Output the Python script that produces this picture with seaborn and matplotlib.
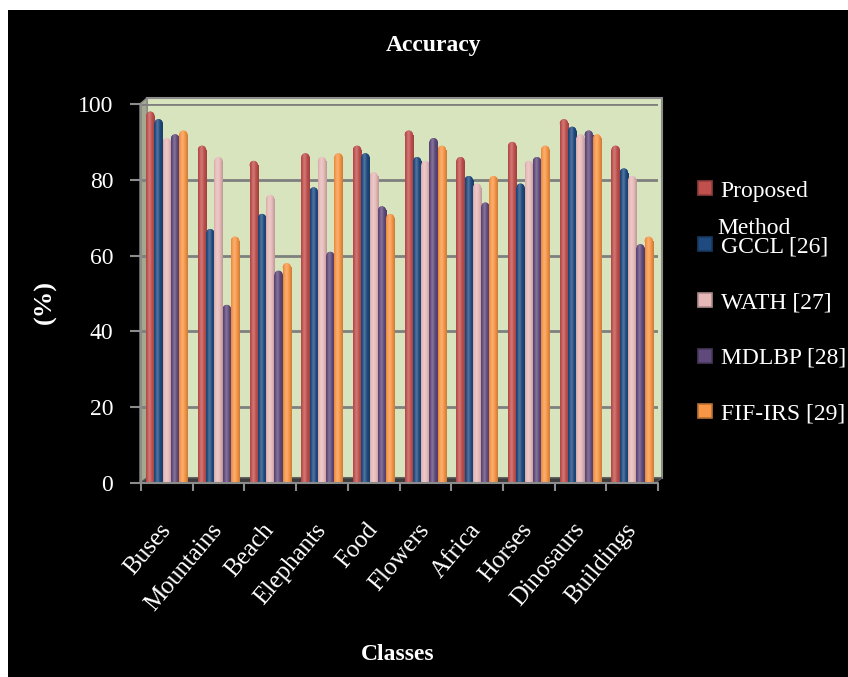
import matplotlib
matplotlib.use("Agg")
import matplotlib.pyplot as plt
from matplotlib.patches import Rectangle, Polygon, Ellipse
from matplotlib.lines import Line2D
import numpy as np
import pandas as pd
import seaborn as sns

# Accuracy (%) per image class for each retrieval method
classes = ["Buses", "Mountains", "Beach", "Elephants", "Food",
           "Flowers", "Africa", "Horses", "Dinosaurs", "Buildings"]
methods = ["Proposed Method", "GCCL [26]", "WATH [27]", "MDLBP [28]", "FIF-IRS [29]"]
proposed = [98, 89, 85, 87, 89, 93, 86, 90, 96, 89]
gccl = [96, 67, 71, 78, 87, 86, 81, 79, 94, 83]
wath = [91, 86, 76, 86, 82, 85, 79, 85, 92, 81]
mdlbp = [92, 47, 56, 61, 73, 91, 74, 86, 93, 63]
fif_irs = [93, 65, 58, 87, 71, 89, 81, 89, 92, 65]
y_ticks = [0, 20, 40, 60, 80, 100]

colors = ["#c0504d", "#1f4a7f", "#e6b9b8", "#604a7b", "#f79646"]

df = pd.DataFrame({
    "Class": classes * len(methods),
    "Method": [m for m in methods for _ in classes],
    "Accuracy": proposed + gccl + wath + mdlbp + fif_irs,
})

sns.set_style("white")
plt.rcParams["font.family"] = ["Liberation Serif", "DejaVu Serif"]

W, H = 848, 677
fig = plt.figure(figsize=(W / 100, H / 100), dpi=100, facecolor="white")


def fx(px):
    return px / W


def fy(py):
    return 1 - py / H


# black chart area inside a thin white margin
fig.patches.append(Rectangle((fx(8), 0), 1, fy(10), transform=fig.transFigure,
                             facecolor="black", edgecolor="none", zorder=-10))

# back wall, side wall and floor of the 3-D frame
fig.patches.append(Rectangle((fx(147), fy(478)), fx(662) - fx(147), fy(98) - fy(478),
                             transform=fig.transFigure, facecolor="#d7e4bd",
                             edgecolor="#8c8c8c", lw=1.5, zorder=-5))
fig.patches.append(Polygon([(fx(140), fy(483)), (fx(140), fy(104)), (fx(147), fy(98)),
                            (fx(147), fy(478))], closed=True, transform=fig.transFigure,
                           facecolor="#a3a98d", edgecolor="#8c8c8c", lw=1, zorder=-4))
fig.patches.append(Polygon([(fx(140), fy(483)), (fx(147), fy(478)), (fx(662), fy(478)),
                            (fx(655), fy(483))], closed=True, transform=fig.transFigure,
                           facecolor="#3c3c3c", edgecolor="#555555", lw=1, zorder=-4))

ax = fig.add_axes([fx(141), fy(483), fx(658) - fx(141), fy(104) - fy(483)])
ax.patch.set_alpha(0)

sns.barplot(data=df, x="Class", y="Accuracy", hue="Method", order=classes,
            hue_order=methods, palette=colors, width=0.8, gap=0.0,
            saturation=1, edgecolor="none", linewidth=0, ax=ax, legend=False,
            zorder=3)

ax.set_ylim(0, 100)
ax.set_xlim(-0.5, len(classes) - 0.5)


def cylinder_strip(rgb, n=24):
    # horizontal shading across a column: highlight left of centre, dark rims
    t = np.linspace(0, 1, n)
    s = 0.22 * np.exp(-((t - 0.38) / 0.22) ** 2) - 0.18 * (np.abs(t - 0.42) / 0.58) ** 2
    rgb = np.asarray(rgb)
    out = np.where(s[:, None] >= 0, rgb + (1 - rgb) * s[:, None], rgb * (1 + s[:, None]))
    return np.clip(out, 0, 1)[None, :, :]


cap = 1.1  # half-height of the rounded top, in % units
for patch in list(ax.patches):
    x0, w, h = patch.get_x(), patch.get_width(), patch.get_height()
    rgb = matplotlib.colors.to_rgb(patch.get_facecolor())
    patch.set_height(h - cap)
    dome = Ellipse((x0 + w / 2, h - cap), w, 2 * cap, facecolor=rgb,
                   edgecolor="none", zorder=3)
    ax.add_patch(dome)
    strip = cylinder_strip(rgb)
    for clip in (patch, dome):
        im = ax.imshow(strip, extent=[x0, x0 + w, 0, h], aspect="auto",
                       interpolation="bilinear", zorder=3.5)
        im.set_clip_path(clip)

ax.set_ylim(0, 100)
ax.set_xlim(-0.5, len(classes) - 0.5)
ax.set_aspect("auto")
ax.set_yticks(y_ticks)
ax.yaxis.grid(True, color="#7f7f7f", lw=2, zorder=0)
ax.set_axisbelow(True)
for side in ["top", "right", "bottom", "left"]:
    ax.spines[side].set_visible(False)

ax.tick_params(axis="y", colors="#8c8c8c", labelcolor="white", labelsize=17,
               length=8, width=1.5, pad=12, left=True)
ax.set_xticks(range(len(classes)))
ax.set_xticklabels(classes)
ax.tick_params(axis="x", which="major", length=0, labelcolor="white",
               labelsize=18, pad=31)
ax.set_xticks(np.arange(-0.5, len(classes), 1.0), minor=True)
ax.tick_params(axis="x", which="minor", length=6, width=1.5, colors="#8c8c8c",
               bottom=True)
for lbl in ax.get_xticklabels():
    lbl.set_rotation(50)
    lbl.set_ha("right")
    lbl.set_va("center")
    lbl.set_rotation_mode("anchor")

# front axis lines
ax.plot([0, 0], [0, 1], transform=ax.transAxes, color="#8c8c8c", lw=1.5,
        clip_on=False, zorder=5)
ax.plot([0, 1], [0, 0], transform=ax.transAxes, color="#8c8c8c", lw=1.5,
        clip_on=False, zorder=5)
ax.set_xlabel("")
ax.set_ylabel("")

fig.text(fx(434), fy(46), "Accuracy", color="white", fontsize=17,
         fontweight="bold", ha="center", va="center")
fig.text(fx(45), fy(302), "(%)", color="white", fontsize=19, fontweight="bold",
         rotation=90, ha="center", va="center")
fig.text(fx(398), fy(655), "Classes", color="white", fontsize=17,
         fontweight="bold", ha="center", va="center")

handles = [Line2D([0], [0], marker="s", linestyle="none", markersize=10,
                  markerfacecolor=c, markeredgewidth=1.2,
                  markeredgecolor=tuple(np.array(matplotlib.colors.to_rgb(c)) * 0.75))
           for c in colors]
legend_labels = ["Proposed", "GCCL [26]", "WATH [27]", "MDLBP [28]", "FIF-IRS [29]"]
fig.legend(handles, legend_labels, loc="upper left",
           bbox_to_anchor=(fx(696), fy(180)), bbox_transform=fig.transFigure,
           frameon=False, fontsize=17, labelcolor="white", handlelength=0.8,
           handletextpad=0.25, labelspacing=1.45, borderpad=0, borderaxespad=0)
fig.text(fx(717), fy(228), "Method", color="white", fontsize=17,
         ha="left", va="center")

fig.savefig("out.png", dpi=100, facecolor=fig.get_facecolor())
